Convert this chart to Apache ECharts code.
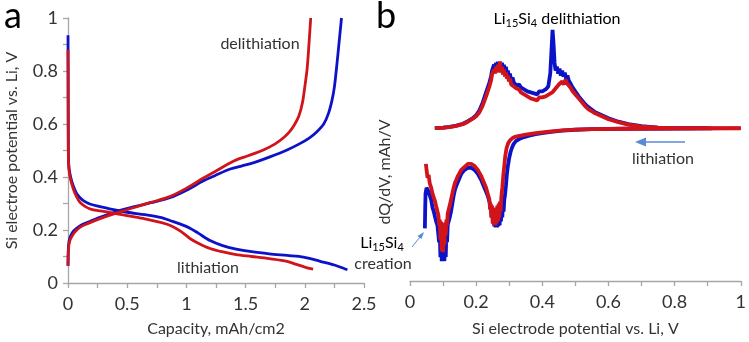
<!DOCTYPE html>
<html><head><meta charset="utf-8">
<script src="https://cdn.jsdelivr.net/npm/echarts@6/dist/echarts.min.js"></script>
<style>html,body{margin:0;padding:0;background:#fff}#c{width:749px;height:342px}</style>
</head><body><div id="c"></div>
<script>
// ---- Panel a: voltage profiles (capacity, mAh/cm2 ; potential, V)
const aBlueLithCap = [0,0.001,0.002,0.004,0.01,0.025,0.045,0.07,0.10,0.14,0.19,0.27,0.36,0.5,0.65,0.79,0.86,0.95,1.03,1.1,1.2,1.3,1.42,1.55,1.7,1.85,1.99,2.13,2.25,2.34,2.36];
const aBlueLithV   = [0.935,0.80,0.60,0.47,0.43,0.395,0.366,0.34,0.323,0.308,0.297,0.288,0.279,0.267,0.258,0.247,0.236,0.222,0.207,0.188,0.16,0.142,0.128,0.118,0.11,0.104,0.098,0.082,0.068,0.053,0.05];
const aRedLithCap  = [0,0.001,0.002,0.004,0.01,0.025,0.045,0.07,0.10,0.14,0.19,0.27,0.36,0.5,0.65,0.79,0.86,0.95,1.03,1.1,1.2,1.3,1.42,1.55,1.7,1.85,1.93,2.0,2.07];
const aRedLithV    = [0.88,0.75,0.58,0.46,0.42,0.385,0.355,0.328,0.305,0.29,0.279,0.272,0.266,0.254,0.242,0.228,0.218,0.196,0.168,0.15,0.13,0.118,0.107,0.1,0.092,0.082,0.07,0.06,0.052];
const aBlueDelCap  = [0,0.001,0.003,0.008,0.02,0.04,0.07,0.11,0.16,0.27,0.4,0.56,0.7,0.86,1.01,1.14,1.24,1.37,1.47,1.57,1.7,1.85,1.95,2.04,2.1,2.16,2.2,2.23,2.25,2.27,2.29,2.31];
const aBlueDelV    = [0.065,0.10,0.13,0.155,0.175,0.192,0.205,0.218,0.228,0.248,0.268,0.288,0.303,0.322,0.352,0.385,0.405,0.43,0.442,0.454,0.475,0.502,0.524,0.548,0.57,0.6,0.64,0.69,0.74,0.82,0.91,1.0];
const aRedDelCap   = [0,0.001,0.003,0.008,0.02,0.045,0.07,0.1,0.16,0.27,0.4,0.56,0.7,0.86,1.01,1.14,1.24,1.4,1.52,1.65,1.75,1.82,1.87,1.91,1.95,1.98,2.0,2.02,2.035,2.05];
const aRedDelV     = [0.065,0.09,0.12,0.145,0.165,0.185,0.198,0.21,0.223,0.243,0.263,0.285,0.304,0.326,0.36,0.395,0.42,0.46,0.48,0.502,0.525,0.548,0.57,0.595,0.63,0.68,0.74,0.81,0.9,1.0];

// ---- Panel b: dQ/dV, [potential V, dQ/dV (arbitrary units)] pairs
const bBlueDel = [[0.075,0],[0.10,0.005],[0.12,0.012],[0.14,0.025],[0.16,0.045],[0.175,0.07],[0.19,0.10],[0.20,0.13],[0.21,0.18],[0.22,0.26],[0.23,0.36],[0.24,0.46],
  [0.245,0.52],[0.248,0.58],[0.251,0.56],[0.254,0.64],[0.257,0.59],[0.260,0.66],[0.263,0.60],[0.266,0.67],[0.269,0.60],[0.272,0.67],[0.275,0.59],[0.278,0.66],[0.281,0.58],[0.284,0.64],[0.287,0.56],[0.290,0.62],[0.293,0.54],[0.296,0.58],[0.299,0.51],[0.302,0.55],[0.306,0.48],[0.310,0.51],[0.314,0.46],[0.318,0.48],[0.322,0.43],
  [0.33,0.44],[0.335,0.41],[0.34,0.42],[0.345,0.39],[0.35,0.41],[0.355,0.37],[0.36,0.39],[0.365,0.36],[0.37,0.38],[0.375,0.35],[0.38,0.37],[0.385,0.34],[0.39,0.37],[0.395,0.35],[0.40,0.37],[0.405,0.36],[0.41,0.39],[0.418,0.42],[0.424,0.55],[0.428,0.80],[0.431,0.99],[0.434,0.85],[0.437,0.66],
  [0.44,0.58],[0.444,0.62],[0.448,0.55],[0.452,0.60],[0.456,0.53],[0.46,0.58],[0.464,0.52],[0.468,0.56],[0.472,0.50],[0.476,0.53],[0.48,0.48],[0.485,0.46],[0.49,0.42],[0.495,0.40],[0.50,0.37],[0.51,0.32],[0.52,0.28],[0.53,0.24],[0.54,0.21],[0.56,0.16],[0.58,0.13],[0.60,0.10],[0.63,0.065],[0.66,0.04],[0.70,0.02],[0.75,0.005],[0.8,0],[0.9,0]];
const bRedDel = [[0.075,0],[0.10,0.004],[0.12,0.01],[0.14,0.022],[0.16,0.04],[0.175,0.065],[0.19,0.095],[0.20,0.12],[0.21,0.16],[0.22,0.23],[0.23,0.32],[0.24,0.42],
  [0.245,0.48],[0.248,0.54],[0.251,0.52],[0.254,0.59],[0.257,0.55],[0.260,0.62],[0.263,0.56],[0.266,0.64],[0.269,0.57],[0.272,0.67],[0.275,0.56],[0.278,0.62],[0.281,0.54],[0.284,0.59],[0.287,0.52],[0.290,0.56],[0.293,0.50],[0.296,0.53],[0.299,0.47],[0.302,0.50],[0.306,0.44],[0.310,0.46],[0.314,0.42],[0.318,0.43],[0.322,0.40],
  [0.33,0.39],[0.335,0.36],[0.34,0.37],[0.345,0.34],[0.35,0.35],[0.355,0.32],[0.36,0.33],[0.365,0.30],[0.37,0.32],[0.375,0.29],[0.38,0.30],[0.385,0.28],[0.39,0.31],[0.395,0.29],[0.40,0.31],[0.405,0.30],[0.41,0.32],[0.415,0.32],[0.42,0.34],[0.425,0.33],[0.43,0.36],[0.435,0.36],[0.44,0.40],[0.445,0.39],[0.45,0.44],[0.455,0.42],[0.46,0.47],[0.465,0.44],[0.47,0.49],[0.475,0.45],[0.48,0.46],[0.485,0.41],
  [0.49,0.38],[0.50,0.34],[0.51,0.30],[0.52,0.26],[0.53,0.22],[0.54,0.19],[0.56,0.15],[0.58,0.12],[0.60,0.09],[0.63,0.06],[0.66,0.035],[0.70,0.016],[0.75,0.004],[0.8,0],[1.0,0]];
const bBlueLith = [[0.045,-1.01],[0.046,-0.80],[0.047,-0.66],[0.05,-0.60],[0.053,-0.58],[0.056,-0.64],[0.06,-0.68],[0.064,-0.72],[0.068,-0.80],[0.072,-0.84],[0.076,-0.90],[0.08,-0.95],[0.083,-0.98],
  [0.086,-1.0],[0.088,-1.15],[0.090,-1.05],[0.092,-1.30],[0.094,-1.08],[0.096,-1.34],[0.098,-1.10],[0.100,-1.34],[0.102,-1.10],[0.104,-1.34],[0.106,-1.08],[0.108,-1.30],[0.110,-1.04],[0.112,-1.15],[0.114,-0.98],[0.116,-0.95],
  [0.12,-0.90],[0.124,-0.84],[0.128,-0.76],[0.132,-0.68],[0.136,-0.62],[0.14,-0.58],[0.145,-0.54],[0.15,-0.50],[0.155,-0.46],[0.16,-0.44],[0.165,-0.42],[0.17,-0.41],[0.175,-0.40],[0.18,-0.39],[0.185,-0.40],[0.19,-0.40],[0.195,-0.42],[0.20,-0.44],[0.205,-0.46],[0.21,-0.48],[0.215,-0.52],[0.22,-0.56],[0.225,-0.60],[0.23,-0.64],[0.235,-0.68],[0.24,-0.74],
  [0.245,-0.80],[0.247,-0.90],[0.249,-0.82],[0.251,-0.96],[0.253,-0.84],[0.255,-0.99],[0.257,-0.84],[0.259,-1.0],[0.261,-0.84],[0.263,-1.0],[0.265,-0.84],[0.267,-0.99],[0.269,-0.82],[0.271,-0.98],[0.273,-0.80],[0.275,-0.94],[0.277,-0.78],[0.279,-0.90],[0.281,-0.76],[0.283,-0.84],[0.285,-0.72],[0.287,-0.68],[0.29,-0.58],
  [0.293,-0.46],[0.296,-0.38],[0.30,-0.30],[0.304,-0.24],[0.308,-0.20],[0.313,-0.16],[0.32,-0.13],[0.33,-0.11],[0.345,-0.09],[0.36,-0.075],[0.38,-0.06],[0.42,-0.04],[0.46,-0.025],[0.5,-0.016],[0.55,-0.01],[0.65,-0.006],[0.8,-0.004],[0.914,-0.003]];
const bRedLith = [[0.048,-0.36],[0.050,-0.42],[0.053,-0.50],[0.056,-0.47],[0.06,-0.56],[0.064,-0.60],[0.068,-0.66],[0.072,-0.68],[0.076,-0.74],[0.08,-0.80],[0.083,-0.84],
  [0.086,-0.88],[0.088,-0.98],[0.090,-0.92],[0.092,-1.12],[0.094,-0.94],[0.096,-1.24],[0.098,-0.96],[0.100,-1.25],[0.102,-0.97],[0.104,-1.18],[0.106,-0.95],[0.108,-1.08],[0.110,-0.92],[0.112,-0.98],[0.114,-0.86],
  [0.117,-0.82],[0.12,-0.78],[0.124,-0.72],[0.128,-0.66],[0.132,-0.60],[0.136,-0.55],[0.14,-0.52],[0.145,-0.48],[0.15,-0.45],[0.155,-0.42],[0.16,-0.40],[0.165,-0.39],[0.17,-0.37],[0.175,-0.36],[0.18,-0.35],[0.185,-0.36],[0.19,-0.36],[0.195,-0.38],[0.20,-0.40],[0.205,-0.42],[0.21,-0.45],[0.215,-0.48],[0.22,-0.52],[0.225,-0.56],[0.23,-0.60],[0.235,-0.66],
  [0.240,-0.72],[0.242,-0.82],[0.244,-0.76],[0.246,-0.90],[0.248,-0.78],[0.250,-0.96],[0.252,-0.80],[0.254,-0.98],[0.256,-0.80],[0.258,-0.98],[0.260,-0.80],[0.262,-0.96],[0.264,-0.78],[0.266,-0.94],[0.268,-0.76],[0.270,-0.90],[0.272,-0.74],[0.274,-0.84],[0.276,-0.70],[0.279,-0.60],
  [0.282,-0.48],[0.285,-0.38],[0.288,-0.28],[0.292,-0.20],[0.297,-0.15],[0.303,-0.12],[0.31,-0.10],[0.32,-0.085],[0.335,-0.075],[0.35,-0.065],[0.38,-0.05],[0.42,-0.035],[0.46,-0.022],[0.5,-0.015],[0.55,-0.01],[0.65,-0.006],[0.8,-0.004],[1.0,-0.003]];

const aXTicks = [0,0.5,1,1.5,2,2.5];
const aYTicks = [0,0.2,0.4,0.6,0.8,1];
const bXTicks = [0,0.2,0.4,0.6,0.8,1];

const BLUE = '#0c12c8', RED = '#d0141a';
const TXT = '#333333', AX = '#a6a6a6';
const FONT = 'Lato';

function zip(x, y) { return x.map((v, i) => [v, y[i]]); }
function near(list, v) { return list.some(t => Math.abs(t - v) < 1e-6); }

const chart = echarts.init(document.getElementById('c'), null, {renderer: 'canvas'});
const axisCommon = {
  axisLine: {show: true, onZero: false, lineStyle: {color: AX, width: 1.3}},
  axisTick: {show: true, length: 5, lineStyle: {color: AX, width: 1.3}},
  splitLine: {show: false},
  axisLabel: {color: TXT, fontSize: 18, fontFamily: FONT},
  nameTextStyle: {color: TXT, fontSize: 16, fontFamily: FONT}
};
const sub = {fontSize: 11, fontFamily: FONT, color: TXT, padding: [9, 0, 0, 0]};
const nrm = {fontSize: 16, fontFamily: FONT, color: TXT};

chart.setOption({
  animation: false,
  grid: [
    {left: 68, right: 385, top: 18, bottom: 58},
    {left: 410, right: 7, top: 18, bottom: 59}
  ],
  xAxis: [
    Object.assign({}, axisCommon, {gridIndex: 0, type: 'value', min: 0, max: 2.5, interval: 0.25,
      name: 'Capacity, mAh/cm2', nameLocation: 'middle', nameGap: 38,
      axisLabel: Object.assign({}, axisCommon.axisLabel, {margin: 12, formatter: v => near(aXTicks, v) ? String(v) : ''})}),
    Object.assign({}, axisCommon, {gridIndex: 1, type: 'value', min: 0, max: 1, interval: 0.1,
      name: 'Si electrode potential vs. Li, V', nameLocation: 'middle', nameGap: 40,
      axisLabel: Object.assign({}, axisCommon.axisLabel, {margin: 12, formatter: v => near(bXTicks, v) ? String(v) : ''})})
  ],
  yAxis: [
    Object.assign({}, axisCommon, {gridIndex: 0, type: 'value', min: 0, max: 1, interval: 0.1,
      name: 'Si electroe potential vs. Li, V', nameLocation: 'middle', nameGap: 48,
      axisLabel: Object.assign({}, axisCommon.axisLabel, {margin: 10, formatter: v => near(aYTicks, v) ? String(v) : ''})}),
    {gridIndex: 1, type: 'value', min: -1.54, max: 1.11, show: false}
  ],
  series: [
    {type: 'line', xAxisIndex: 0, yAxisIndex: 0, data: zip(aBlueLithCap, aBlueLithV), showSymbol: false, smooth: 0.3, lineStyle: {color: BLUE, width: 2.8}},
    {type: 'line', xAxisIndex: 0, yAxisIndex: 0, data: zip(aBlueDelCap, aBlueDelV), showSymbol: false, smooth: 0.3, lineStyle: {color: BLUE, width: 2.8}},
    {type: 'line', xAxisIndex: 0, yAxisIndex: 0, data: zip(aRedLithCap, aRedLithV), showSymbol: false, smooth: 0.3, lineStyle: {color: RED, width: 2.8}},
    {type: 'line', xAxisIndex: 0, yAxisIndex: 0, data: zip(aRedDelCap, aRedDelV), showSymbol: false, smooth: 0.3, lineStyle: {color: RED, width: 2.8}},
    {type: 'line', xAxisIndex: 1, yAxisIndex: 1, data: bBlueDel, showSymbol: false, lineStyle: {color: BLUE, width: 3.8}},
    {type: 'line', xAxisIndex: 1, yAxisIndex: 1, data: bBlueLith, showSymbol: false, lineStyle: {color: BLUE, width: 3.8}},
    {type: 'line', xAxisIndex: 1, yAxisIndex: 1, data: bRedDel, showSymbol: false, lineStyle: {color: RED, width: 3.8}},
    {type: 'line', xAxisIndex: 1, yAxisIndex: 1, data: bRedLith, showSymbol: false, lineStyle: {color: RED, width: 3.8}}
  ],
  graphic: [
    {type: 'text', left: 4, top: -2, style: {text: 'a', fontSize: 36, fontFamily: FONT, fill: '#000'}},
    {type: 'text', left: 376, top: -2, style: {text: 'b', fontSize: 36, fontFamily: FONT, fill: '#000'}},
    {type: 'text', x: 260, y: 44, style: {text: 'delithiation', fontSize: 16, fontFamily: FONT, fill: TXT, align: 'center', verticalAlign: 'middle'}},
    {type: 'text', x: 208, y: 268, style: {text: 'lithiation', fontSize: 16, fontFamily: FONT, fill: TXT, align: 'center', verticalAlign: 'middle'}},
    {type: 'text', x: 557, y: 19, style: {text: '{n|Li}{s|15}{n|Si}{s|4}{n| delithiation}', rich: {n: nrm, s: sub}, align: 'center', verticalAlign: 'middle'}},
    {type: 'text', x: 663, y: 159, style: {text: 'lithiation', fontSize: 16, fontFamily: FONT, fill: TXT, align: 'center', verticalAlign: 'middle'}},
    {type: 'text', x: 382, y: 243, style: {text: '{n|Li}{s|15}{n|Si}{s|4}', rich: {n: nrm, s: sub}, align: 'center', verticalAlign: 'middle'}},
    {type: 'text', x: 383, y: 264, style: {text: 'creation', fontSize: 16, fontFamily: FONT, fill: TXT, align: 'center', verticalAlign: 'middle'}},
    {type: 'text', x: 385, y: 172, rotation: Math.PI / 2, style: {text: 'dQ/dV, mAh/V', fontSize: 16, fontFamily: FONT, fill: TXT, align: 'center', verticalAlign: 'middle'}},
    {type: 'line', shape: {x1: 685, y1: 142, x2: 644, y2: 142}, style: {stroke: '#5a8ad4', lineWidth: 1.6}},
    {type: 'polygon', shape: {points: [[635, 142], [646, 137.5], [646, 146.5]]}, style: {fill: '#5a8ad4'}},
    {type: 'line', shape: {x1: 412, y1: 247, x2: 420, y2: 237}, style: {stroke: '#5a8ad4', lineWidth: 1}},
    {type: 'polygon', shape: {points: [[424, 232], [417.5, 236], [421.5, 239]]}, style: {fill: '#5a8ad4'}}
  ]
});
</script></body></html>
